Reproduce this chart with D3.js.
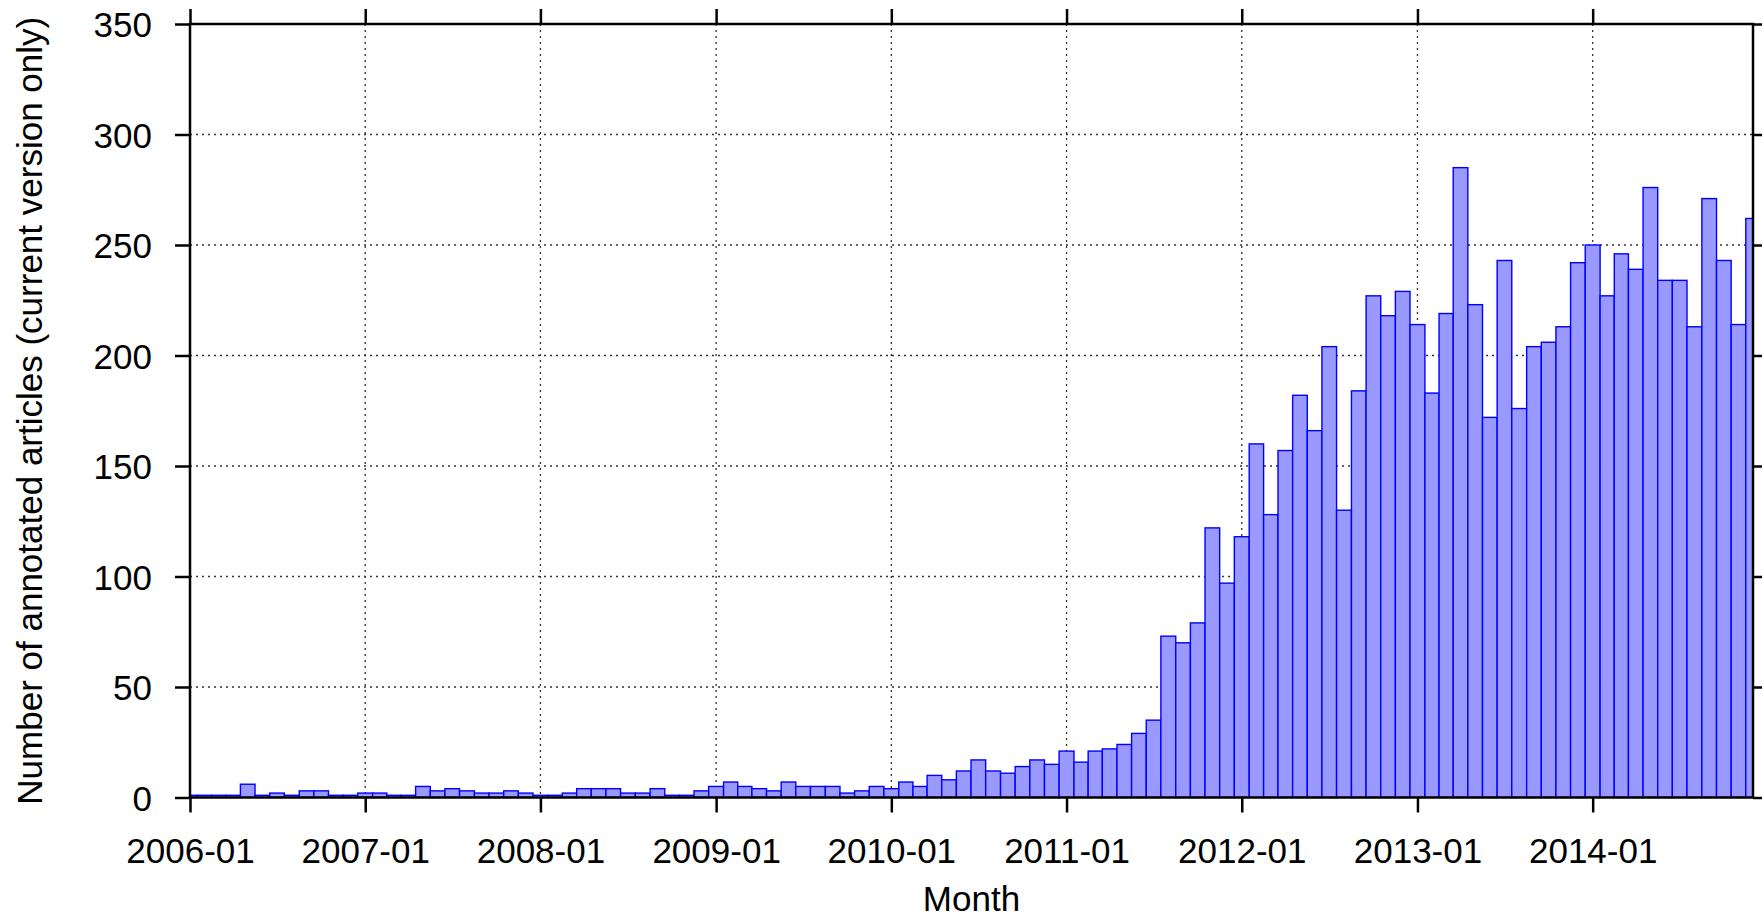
<!DOCTYPE html>
<html>
<head>
<meta charset="utf-8">
<script src="https://cdn.jsdelivr.net/npm/d3@7"></script>
<style>
  body { margin: 0; background: #fff; }
  svg { display: block; }
  text { font-family: "Liberation Sans", Arial, Helvetica, sans-serif; fill: #000; }
</style>
</head>
<body>
<svg id="chart"></svg>
<script>
var width = 1762;
var height = 920;
var margin = {top: 24, right: 9, bottom: 122.5, left: 190};

// monthly counts, 2006-01 .. 2014-12
var counts2006 = [1, 1, 1, 1, 6, 1, 2, 1, 3, 3, 1, 1];
var counts2007 = [2, 2, 1, 1, 5, 3, 4, 3, 2, 2, 3, 2];
var counts2008 = [1, 1, 2, 4, 4, 4, 2, 2, 4, 1, 1, 3];
var counts2009 = [5, 7, 5, 4, 3, 7, 5, 5, 5, 2, 3, 5];
var counts2010 = [4, 7, 5, 10, 8, 12, 17, 12, 11, 14, 17, 15];
var counts2011 = [21, 16, 21, 22, 24, 29, 35, 73, 70, 79, 122, 97];
var counts2012 = [118, 160, 128, 157, 182, 166, 204, 130, 184, 227, 218, 229];
var counts2013 = [214, 183, 219, 285, 223, 172, 243, 176, 204, 206, 213, 242];
var counts2014 = [250, 227, 246, 239, 276, 234, 234, 213, 271, 243, 214, 262];

var counts = [].concat(counts2006, counts2007, counts2008, counts2009, counts2010,
    counts2011, counts2012, counts2013, counts2014);

var months = d3.utcMonth.range(new Date(Date.UTC(2006, 0, 1)), new Date(Date.UTC(2015, 0, 1)));

var xTickLabels = ['2006-01', '2007-01', '2008-01', '2009-01', '2010-01',
    '2011-01', '2012-01', '2013-01', '2014-01'];
var yTicks = [0, 50, 100, 150, 200, 250, 300, 350];

var data = months.map(function (m, i) {
    return {month: m, value: counts[i]};
});

var parseMonth = d3.utcParse('%Y-%m');
var xTicks = xTickLabels.map(parseMonth);

var svg = d3.select('#chart')
    .attr('width', width)
    .attr('height', height);

var plotW = width - margin.left - margin.right;
var plotH = height - margin.top - margin.bottom;

var x = d3.scaleUtc()
    .domain([months[0], months[months.length - 1]])
    .range([0, plotW]);

var y = d3.scaleLinear()
    .domain([0, 350])
    .range([plotH, 0]);

var g = svg.append('g')
    .attr('transform', 'translate(' + margin.left + ',' + margin.top + ')');

g.append('clipPath').attr('id', 'clip')
    .append('rect')
    .attr('width', plotW)
    .attr('height', plotH);

// grid (dotted, behind the bars)
var grid = g.append('g').attr('class', 'grid');
grid.selectAll('line.gy')
    .data(yTicks.slice(1, -1))
    .enter().append('line')
    .attr('x1', 0)
    .attr('x2', plotW)
    .attr('y1', function (d) { return y(d); })
    .attr('y2', function (d) { return y(d); });
grid.selectAll('line.gx')
    .data(xTicks.slice(1))
    .enter().append('line')
    .attr('x1', function (d) { return x(d); })
    .attr('x2', function (d) { return x(d); })
    .attr('y1', 0)
    .attr('y2', plotH);
grid.selectAll('line')
    .attr('stroke', '#333')
    .attr('stroke-width', 1.3)
    .attr('stroke-dasharray', '2,4');

// boxes: each one spans halfway to its neighbours (gnuplot auto boxwidth)
function leftEdge(i) {
    var d = data[i].month;
    var prev = d3.utcMonth.offset(d, -1);
    return (x(prev) + x(d)) / 2;
}
function rightEdge(i) {
    var d = data[i].month;
    var next = d3.utcMonth.offset(d, 1);
    return (x(d) + x(next)) / 2;
}

g.append('g')
    .attr('clip-path', 'url(#clip)')
    .selectAll('rect')
    .data(data)
    .enter().append('rect')
    .attr('x', function (d, i) { return leftEdge(i); })
    .attr('width', function (d, i) { return rightEdge(i) - leftEdge(i); })
    .attr('y', function (d) { return y(d.value); })
    .attr('height', function (d) { return plotH - y(d.value); })
    .attr('fill', '#9999ff')
    .attr('stroke', '#0000ff')
    .attr('stroke-width', 1.4);

// axes with outward ticks on all four sides
var tickLen = 15;
var fontSize = 35;

var axisLeft = d3.axisLeft(y).tickValues(yTicks).tickSize(tickLen).tickPadding(23);
var axisRight = d3.axisRight(y).tickValues(yTicks).tickSize(tickLen).tickFormat('');
var axisBottom = d3.axisBottom(x).tickValues(xTicks).tickSize(tickLen)
    .tickFormat(function (d, i) { return xTickLabels[i]; });
var axisTop = d3.axisTop(x).tickValues(xTicks).tickSize(tickLen).tickFormat('');

var gl = g.append('g').call(axisLeft);
g.append('g').attr('transform', 'translate(' + plotW + ',0)').call(axisRight);
var gb = g.append('g').attr('transform', 'translate(0,' + plotH + ')').call(axisBottom);
g.append('g').call(axisTop);

g.selectAll('.domain').remove();
g.selectAll('.tick line').attr('stroke', '#000').attr('stroke-width', 2.5);
g.selectAll('.tick text')
    .style('font-family', '"Liberation Sans", Arial, sans-serif')
    .attr('font-size', fontSize)
    .attr('fill', '#000');
gl.selectAll('.tick text').attr('dy', '0.36em');
gb.selectAll('.tick text').attr('dy', 0).attr('y', 65.5);

// border
g.append('rect')
    .attr('width', plotW)
    .attr('height', plotH)
    .attr('fill', 'none')
    .attr('stroke', '#000')
    .attr('stroke-width', 2.5);

// axis titles
svg.append('text')
    .attr('x', margin.left + plotW / 2)
    .attr('y', 911)
    .attr('text-anchor', 'middle')
    .attr('font-size', fontSize)
    .text('Month');

svg.append('text')
    .attr('transform', 'translate(29,' + (margin.top + plotH / 2) + ') rotate(-90)')
    .attr('text-anchor', 'middle')
    .attr('dy', '0.36em')
    .attr('font-size', fontSize)
    .text('Number of annotated articles (current version only)');
</script>
</body>
</html>
